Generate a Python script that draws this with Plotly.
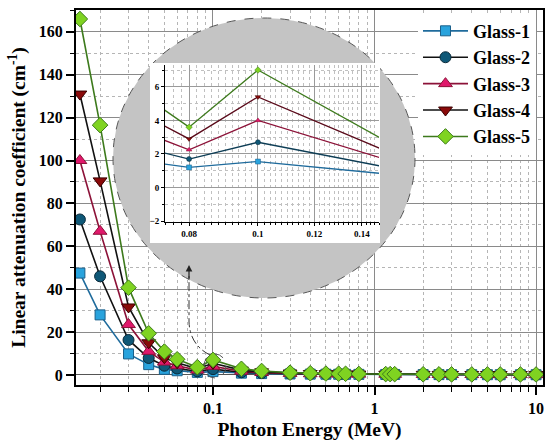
import numpy as np
import plotly.graph_objects as go

# ---------------- data ----------------
energy = [0.015, 0.02, 0.03, 0.04, 0.05, 0.06, 0.08, 0.1, 0.15, 0.2, 0.3, 0.4, 0.5,
          0.6, 0.662, 0.8, 1.173, 1.25, 1.333, 2, 2.506, 3, 4, 5, 6, 8, 10]
glass1 = [47.5, 28.0, 9.8, 4.8, 2.6, 1.94, 1.2, 1.55, 0.83, 0.62, 0.45, 0.37, 0.33,
          0.30, 0.29, 0.26, 0.22, 0.21, 0.21, 0.17, 0.15, 0.14, 0.12, 0.11, 0.10, 0.09, 0.09]
glass2 = [72.5, 46.0, 16.3, 7.9, 4.3, 2.99, 1.7, 2.7, 1.25, 0.85, 0.58, 0.47, 0.41,
          0.37, 0.35, 0.31, 0.27, 0.26, 0.25, 0.21, 0.18, 0.17, 0.15, 0.14, 0.13, 0.12, 0.12]
glass3 = [100.0, 67.0, 23.5, 11.0, 6.0, 4.28, 2.25, 4.0, 1.72, 1.12, 0.72, 0.56, 0.48,
          0.43, 0.41, 0.36, 0.31, 0.30, 0.29, 0.24, 0.21, 0.20, 0.18, 0.16, 0.15, 0.15, 0.14]
glass4 = [131.0, 90.5, 31.7, 15.0, 8.0, 5.67, 2.9, 5.4, 2.25, 1.45, 0.88, 0.66, 0.55,
          0.49, 0.47, 0.41, 0.35, 0.34, 0.33, 0.27, 0.24, 0.22, 0.20, 0.19, 0.18, 0.17, 0.17]
glass5 = [166.0, 116.5, 40.7, 19.4, 10.9, 7.29, 3.6, 7.0, 2.86, 1.85, 1.05, 0.77, 0.63,
          0.56, 0.53, 0.46, 0.39, 0.38, 0.36, 0.30, 0.27, 0.25, 0.23, 0.22, 0.21, 0.21, 0.21]
names = ["Glass-1", "Glass-2", "Glass-3", "Glass-4", "Glass-5"]
series = [glass1, glass2, glass3, glass4, glass5]

x_tickvals = [0.1, 1, 10]
x_ticktext = ["0.1", "1", "10"]
inset_tickvals = [0.08, 0.1, 0.12, 0.14]
inset_ticktext = ["0.08", "0.1", "0.12", "0.14"]

# ---------------- styles ----------------
line_colors = ['#1f6b9c', '#111111', '#8c1238', '#111111', '#3d7a1c']
inset_line_colors = ['#1f6b9c', '#0d3d55', '#8c1238', '#5a0a1a', '#3d7a1c']
marker_colors = ['#29a3dd', '#0f5877', '#e0186b', '#8a0a0a', '#7fd321']
marker_lines = ['#1a5f8a', '#0a2a3a', '#8c1238', '#3a0000', '#3d7a1c']
symbols = ['square', 'circle', 'triangle-up', 'triangle-down', 'diamond']
sizes = [10, 11, 12, 12, 12]
FONT = "Liberation Serif, Times New Roman, serif"

W, H = 545, 441
L, R, T, B = 76, 2, 10, 56
PX0, PX1 = L, W - R
PY0, PY1 = T, H - B


def dom_x(p0, p1):
    return [(p0 - PX0) / (PX1 - PX0), (p1 - PX0) / (PX1 - PX0)]


def dom_y(p_top, p_bot):
    return [(PY1 - p_bot) / (PY1 - PY0), (PY1 - p_top) / (PY1 - PY0)]


fig = go.Figure()

for i in range(5):
    fig.add_trace(go.Scatter(
        x=energy, y=series[i], name=names[i], mode='lines+markers',
        line=dict(color=line_colors[i], width=1.6),
        marker=dict(symbol=symbols[i], size=sizes[i], color=marker_colors[i],
                    line=dict(color=marker_lines[i], width=1)),
        xaxis='x', yaxis='y'))

# decoration layer subplot (pixel-like coordinates)
fig.add_trace(go.Scatter(x=[None], y=[None], xaxis='x2', yaxis='y2',
                         showlegend=False, hoverinfo='skip'))

# inset traces
for i in range(5):
    fig.add_trace(go.Scatter(
        x=energy, y=series[i], name=names[i], mode='lines+markers', showlegend=False,
        line=dict(color=inset_line_colors[i], width=1.3),
        marker=dict(symbol=symbols[i], size=5, color=marker_colors[i],
                    line=dict(color=marker_lines[i], width=0.5)),
        xaxis='x3', yaxis='y3'))

minor_x = []
for d in [0.01, 0.1, 1]:
    for k in range(2, 10):
        minor_x.append(round(k * d, 4))
minor_inset = [round(0.074 + 0.002 * k, 4) for k in range(38)]

tickfont = dict(family=FONT, size=16, color='black', weight='bold')
inset_font = dict(family=FONT, size=9, color='black', weight='bold')

fig.update_layout(
    width=W, height=H,
    margin=dict(l=L, r=R, t=T, b=B),
    paper_bgcolor='white', plot_bgcolor='rgba(0,0,0,0)',
    showlegend=True,
    legend=dict(x=0.985, xanchor='right', y=0.993, yanchor='top',
                bgcolor='white', borderwidth=0, itemwidth=45,
                font=dict(family=FONT, size=18, color='black', weight='bold'),
                tracegroupgap=0),
    xaxis=dict(type='log', range=[np.log10(0.01419), np.log10(11.04)], domain=[0, 1],
               tickvals=x_tickvals, ticktext=x_ticktext, tickfont=tickfont,
               ticks='outside', ticklen=8, tickwidth=1.5, tickcolor='black',
               showline=True, linecolor='black', linewidth=2, mirror=True,
               showgrid=True, gridcolor='#8a8a8a', gridwidth=1,
               minor=dict(tickvals=minor_x, ticks='outside', ticklen=5, tickwidth=1,
                          tickcolor='black', showgrid=True, gridcolor='#b5b5b5',
                          griddash='dot', gridwidth=1),
               title=dict(text='Photon Energy (MeV)', standoff=12,
                          font=dict(family=FONT, size=19.5, color='black', weight='bold')),
               automargin=False),
    yaxis=dict(range=[-4.7, 170.2], domain=[0, 1], tick0=0, dtick=20, tickfont=tickfont,
               ticks='outside', ticklen=8, tickwidth=1.5, tickcolor='black',
               showline=True, linecolor='black', linewidth=2, mirror=True,
               showgrid=True, gridcolor='#8a8a8a', gridwidth=1,
               zeroline=True, zerolinecolor='#555555', zerolinewidth=1,
               minor=dict(dtick=10, ticks='outside', ticklen=4, tickwidth=1,
                          tickcolor='black', showgrid=True, gridcolor='#b5b5b5',
                          griddash='dot', gridwidth=1),
               title=dict(text='Linear attenuation coefficient (cm<sup>-1</sup>)', standoff=8,
                          font=dict(family=FONT, size=19.5, color='black', weight='bold')),
               automargin=False),
    xaxis2=dict(domain=[0, 1], range=[PX0, PX1], visible=False, anchor='y2'),
    yaxis2=dict(domain=[0, 1], range=[PY1, PY0], visible=False, anchor='x2'),
    xaxis3=dict(type='log', domain=dom_x(165, 379), anchor='y3',
                range=[np.log10(0.074), np.log10(0.148)],
                tickvals=inset_tickvals, ticktext=inset_ticktext, tickfont=inset_font,
                ticks='outside', ticklen=3, tickcolor='black',
                showline=True, linecolor='black', linewidth=1,
                showgrid=True, gridcolor='#9a9a9a', gridwidth=1,
                minor=dict(tickvals=minor_inset, ticks='outside', ticklen=2,
                           tickcolor='black', showgrid=True, gridcolor='#c0c0c0',
                           griddash='dot', gridwidth=1),
                automargin=False),
    yaxis3=dict(domain=dom_y(65, 222), anchor='x3', range=[-2.05, 7.3],
                tick0=0, dtick=2, tickfont=inset_font,
                ticks='outside', ticklen=3, tickcolor='black',
                showline=True, linecolor='black', linewidth=1,
                showgrid=True, gridcolor='#9a9a9a', gridwidth=1, zeroline=False,
                minor=dict(dtick=1, ticks='outside', ticklen=2, tickcolor='black',
                           showgrid=True, gridcolor='#c0c0c0', griddash='dot'),
                automargin=False),
    shapes=[
        dict(type='circle', xref='x2', yref='y2', x0=113, x1=415, y0=18, y1=298,
             fillcolor='#c4c4c4', line=dict(color='#555555', width=1, dash='dash'),
             layer='below'),
        dict(type='rect', xref='x2', yref='y2', x0=150, x1=380, y0=63, y1=243,
             fillcolor='white', line=dict(width=0), layer='below'),
        dict(type='circle', xref='x2', yref='y2', x0=204, x1=226, y0=354, y1=378,
             line=dict(color='#555555', width=1, dash='dash'), layer='above'),
        dict(type='path', xref='x2', yref='y2',
             path='M 210,355 Q 190,345 189,322 L 189,274',
             line=dict(color='#333333', width=1, dash='dashdot'), layer='above'),
    ],
    annotations=[
        dict(x=189, y=265, xref='x2', yref='y2', ax=189, ay=280, axref='x2', ayref='y2',
             text='', showarrow=True, arrowhead=2, arrowsize=1.1, arrowwidth=1.2,
             arrowcolor='#222222', standoff=0),
    ],
)

fig.write_html("out.html")
